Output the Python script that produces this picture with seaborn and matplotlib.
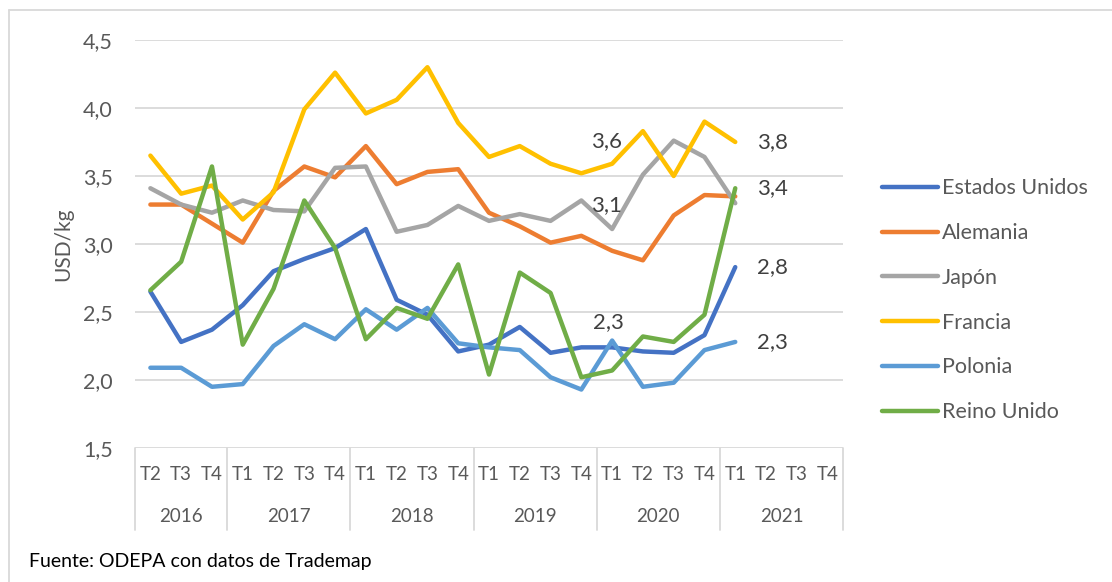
import numpy as np
import pandas as pd
import matplotlib
matplotlib.use("Agg")
import matplotlib.pyplot as plt
from matplotlib.ticker import FuncFormatter
from matplotlib.lines import Line2D
import seaborn as sns

# periods (year, quarter)
years = ["2016", "2017", "2018", "2019", "2020", "2021"]
quarters_per_year = [["T2", "T3", "T4"], ["T1", "T2", "T3", "T4"], ["T1", "T2", "T3", "T4"],
                     ["T1", "T2", "T3", "T4"], ["T1", "T2", "T3", "T4"], ["T1", "T2", "T3", "T4"]]
quarter_labels = [q for qs in quarters_per_year for q in qs]

paises = ["Estados Unidos", "Alemania", "Japón", "Francia", "Polonia", "Reino Unido"]
colores = ["#4472C4", "#ED7D31", "#A5A5A5", "#FFC000", "#5B9BD5", "#70AD47"]

# USD/kg, from T2 2016 to T1 2021
estados_unidos = [2.65, 2.28, 2.37, 2.55, 2.80, 2.89, 2.97, 3.11, 2.59, 2.48,
                  2.21, 2.26, 2.39, 2.20, 2.24, 2.24, 2.21, 2.20, 2.33, 2.83]
alemania = [3.29, 3.29, 3.15, 3.01, 3.39, 3.57, 3.49, 3.72, 3.44, 3.53,
            3.55, 3.23, 3.13, 3.01, 3.06, 2.95, 2.88, 3.21, 3.36, 3.35]
japon = [3.41, 3.29, 3.23, 3.32, 3.25, 3.24, 3.56, 3.57, 3.09, 3.14,
         3.28, 3.17, 3.22, 3.17, 3.32, 3.11, 3.51, 3.76, 3.64, 3.30]
francia = [3.65, 3.37, 3.43, 3.18, 3.38, 3.99, 4.26, 3.96, 4.06, 4.30,
           3.89, 3.64, 3.72, 3.59, 3.52, 3.59, 3.83, 3.50, 3.90, 3.75]
polonia = [2.09, 2.09, 1.95, 1.97, 2.25, 2.41, 2.30, 2.52, 2.37, 2.53,
           2.27, 2.24, 2.22, 2.02, 1.93, 2.29, 1.95, 1.98, 2.22, 2.28]
reino_unido = [2.66, 2.87, 3.57, 2.26, 2.67, 3.32, 2.97, 2.30, 2.53, 2.45,
               2.85, 2.04, 2.79, 2.64, 2.02, 2.07, 2.32, 2.28, 2.48, 3.41]

series = [estados_unidos, alemania, japon, francia, polonia, reino_unido]

# long table for seaborn
rows = []
for pais, vals in zip(paises, series):
    for i, v in enumerate(vals):
        rows.append({"idx": i, "valor": v, "pais": pais})
df = pd.DataFrame(rows)

# data labels: (series, period index, offset in points)
etiquetas = [("Francia", 15, (-4, 16)), ("Japón", 15, (-4, 17)), ("Polonia", 15, (-3, 13)),
             ("Francia", 19, (16, 0)), ("Reino Unido", 19, (16, 0)),
             ("Estados Unidos", 19, (16, 0)), ("Polonia", 19, (16, 0))]

sns.set_style("white")
plt.rcParams["font.family"] = ["Lato", "DejaVu Sans"]
gris = "#595959"

fig = plt.figure(figsize=(11.12, 5.82), dpi=100)
ax = fig.add_axes([135 / 1112, 1 - 448 / 582, 708 / 1112, 408 / 582])

sns.lineplot(data=df, x="idx", y="valor", hue="pais", hue_order=paises,
             palette=colores, linewidth=3.2, ax=ax, sort=False)

ax.set_xlim(-0.5, len(quarter_labels) - 0.5)
ax.set_ylim(1.5, 4.5)
ax.set_yticks(np.arange(1.5, 4.51, 0.5))
ax.yaxis.set_major_formatter(FuncFormatter(lambda v, p: f"{v:.1f}".replace(".", ",")))
ax.grid(axis="y", color="#D9D9D9", linewidth=1.3)
ax.set_axisbelow(True)
for s in ax.spines.values():
    s.set_visible(False)

ax.set_xticks(range(len(quarter_labels)))
ax.set_xticklabels(quarter_labels)
ax.tick_params(axis="x", length=0, pad=13, labelsize=13.5, labelcolor=gris)
ax.tick_params(axis="y", length=0, pad=16, labelsize=15.5, labelcolor=gris)
ax.set_xlabel("")
ax.set_ylabel("USD/kg", fontsize=15, color=gris, labelpad=7)

# year row and separators
trans = ax.get_xaxis_transform()
start = 0
bounds = [-0.5]
for y, qs in zip(years, quarters_per_year):
    end = start + len(qs)
    ax.text((start + end - 1) / 2, -0.169, y, transform=trans, ha="center", va="center",
            fontsize=13.5, color=gris)
    bounds.append(end - 0.5)
    start = end
for b in bounds:
    ax.plot([b, b], [0, -0.2], transform=trans, color="#D9D9D9", linewidth=1.3, clip_on=False)

# data labels
for pais, i, off in etiquetas:
    v = series[paises.index(pais)][i]
    ha = "left" if off[0] > 10 else "center"
    ax.annotate(f"{v:.1f}".replace(".", ","), (i, v), xytext=off, textcoords="offset points",
                ha=ha, va="center", fontsize=16, color="#404040")

# legend
handles, labels = ax.get_legend_handles_labels()
ax.legend(handles, labels, loc="center left", bbox_to_anchor=(0.793, 0.484),
          bbox_transform=fig.transFigure, frameon=False, fontsize=15.5,
          handlelength=2.6, handletextpad=0.19, labelspacing=1.15, borderpad=0,
          borderaxespad=0, labelcolor=gris)

# source and outer frame
fig.text(29 / 1112, 1 - 562 / 582, "Fuente: ODEPA con datos de Trademap", fontsize=14,
         color="#000000", va="center", ha="left")
fig.add_artist(Line2D([9 / 1112, 9 / 1112], [0, 1 - 10 / 582], color="#D9D9D9", linewidth=1.3))
fig.add_artist(Line2D([9 / 1112, 1], [1 - 10 / 582, 1 - 10 / 582], color="#D9D9D9", linewidth=1.3))

fig.savefig("out.png", dpi=100)
